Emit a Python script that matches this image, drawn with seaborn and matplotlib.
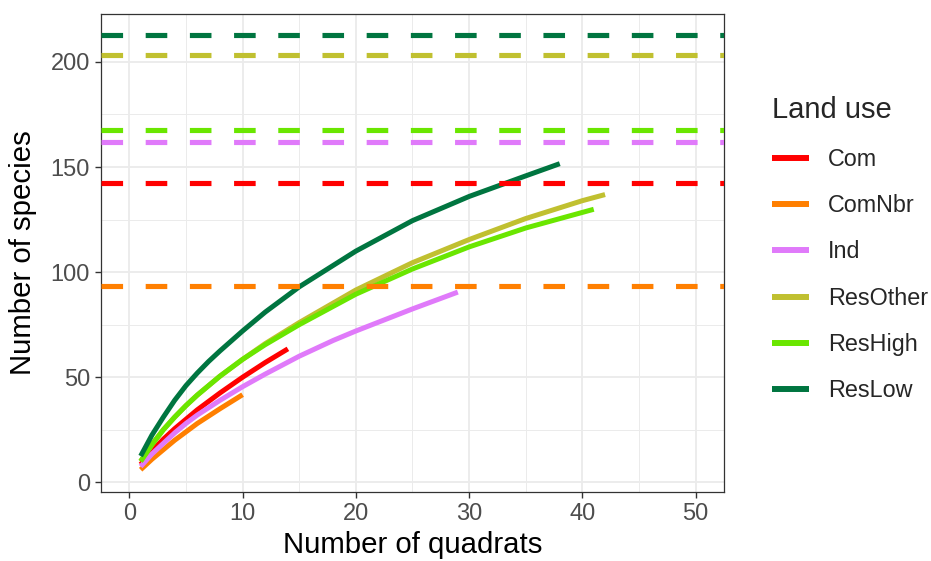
import seaborn as sns
import matplotlib.pyplot as plt
from matplotlib.lines import Line2D
from matplotlib.ticker import MultipleLocator
import pandas as pd

# data #
land_use = ["Com", "ComNbr", "Ind", "ResOther", "ResHigh", "ResLow"]
colours = ["#FF0000", "#FF7F00", "#E07AFA", "#C0C030", "#6AE600", "#007540"]

com_q = [1, 2, 3, 4, 5, 6, 7, 8, 10, 12, 14]
com_s = [8.5, 15, 20.5, 25.5, 30, 34.5, 38.5, 42.5, 50, 57, 63.5]

comnbr_q = [1, 2, 3, 4, 5, 6, 7, 8, 10]
comnbr_s = [6, 11, 15.5, 20, 24, 28, 31.5, 35, 41.7]

ind_q = [1, 2, 3, 4, 5, 6, 7, 8, 10, 12, 15, 18, 20, 25, 29]
ind_s = [7.5, 13.5, 18.5, 23.5, 28, 32, 35.5, 39, 45.5, 51.5, 60, 67.5, 72, 82.5, 90.5]

resother_q = [1, 2, 3, 4, 5, 6, 7, 8, 10, 12, 15, 20, 25, 30, 35, 40, 42]
resother_s = [10, 18, 25, 31, 36.5, 41.5, 46, 50.5, 58.5, 66, 76, 91.5, 104.5, 115.5, 125.5, 134, 136.9]

reshigh_q = [1, 2, 3, 4, 5, 6, 7, 8, 10, 12, 15, 20, 25, 30, 35, 41]
reshigh_s = [10, 18, 25, 31, 36.5, 41.5, 46, 50.5, 58.5, 65.5, 75, 89.5, 101.5, 112, 121, 129.9]

reslow_q = [1, 2, 3, 4, 5, 6, 7, 8, 10, 12, 15, 20, 25, 30, 35, 38]
reslow_s = [12.5, 22.5, 31, 39, 46, 52, 57.5, 62.5, 72, 81, 93, 110, 124.5, 136, 145.8, 151.6]

# estimated total richness per land use (dashed lines) #
asymptote = [142.2, 93.2, 161.9, 203.5, 167.5, 212.7]

## Long table for seaborn ##
curves = {"Com": (com_q, com_s), "ComNbr": (comnbr_q, comnbr_s),
          "Ind": (ind_q, ind_s), "ResOther": (resother_q, resother_s),
          "ResHigh": (reshigh_q, reshigh_s), "ResLow": (reslow_q, reslow_s)}
frames = []
for key in land_use:
    q, s = curves[key]
    frames.append(pd.DataFrame({"quadrats": q, "species": s, "land_use": key}))
df = pd.concat(frames, ignore_index=True)

## Style ##
sns.set_theme(style="white")
plt.rcParams['font.family'] = ['Liberation Sans', 'DejaVu Sans']

fig = plt.figure(figsize=(9.31, 5.61), dpi=100)
ax = fig.add_axes([101/931, 1-492/561, (724-101)/931, (492-14)/561])

sns.lineplot(data=df, x="quadrats", y="species", hue="land_use",
             hue_order=land_use, palette=colours, linewidth=3.6,
             estimator=None, sort=False, legend=False, ax=ax, zorder=3,
             solid_capstyle='butt', solid_joinstyle='round')

for y, c in zip(asymptote, colours):
    ax.axhline(y, color=c, linewidth=3.7, dashes=(4.2, 4.4), zorder=4)

ax.set_xlim(-2.5, 52.5)
ax.set_ylim(-4.6, 222.8)
ax.xaxis.set_major_locator(MultipleLocator(10))
ax.xaxis.set_minor_locator(MultipleLocator(5))
ax.yaxis.set_major_locator(MultipleLocator(50))
ax.yaxis.set_minor_locator(MultipleLocator(25))
ax.grid(which='major', color='#EBEBEB', linewidth=1.3, zorder=0)
ax.grid(which='minor', color='#EBEBEB', linewidth=0.7, zorder=0)
ax.set_axisbelow(True)
for sp in ax.spines.values():
    sp.set_color('#333333')
    sp.set_linewidth(0.9)
ax.tick_params(which='major', length=4, width=1, color='#333333', pad=4,
               labelsize=17, labelcolor='#4D4D4D', bottom=True, left=True)
ax.tick_params(which='minor', length=0)

ax.set_xlabel("Number of quadrats", fontsize=21.2, color='black', labelpad=4)
ax.set_ylabel("Number of species", fontsize=21.2, color='black', labelpad=10)

## Legend ##
handles = [Line2D([0], [0], color=c, linewidth=4.3, solid_capstyle='butt')
           for c in colours]
leg = fig.legend(handles, land_use, title="Land use", loc='upper left',
                 bbox_to_anchor=(772/931, 1-96.5/561), frameon=False,
                 fontsize=16.8, title_fontsize=21, alignment='left',
                 borderpad=0, borderaxespad=0, labelspacing=1.0,
                 handlelength=1.58, handletextpad=0.83)

plt.savefig("out.png", dpi=100)
